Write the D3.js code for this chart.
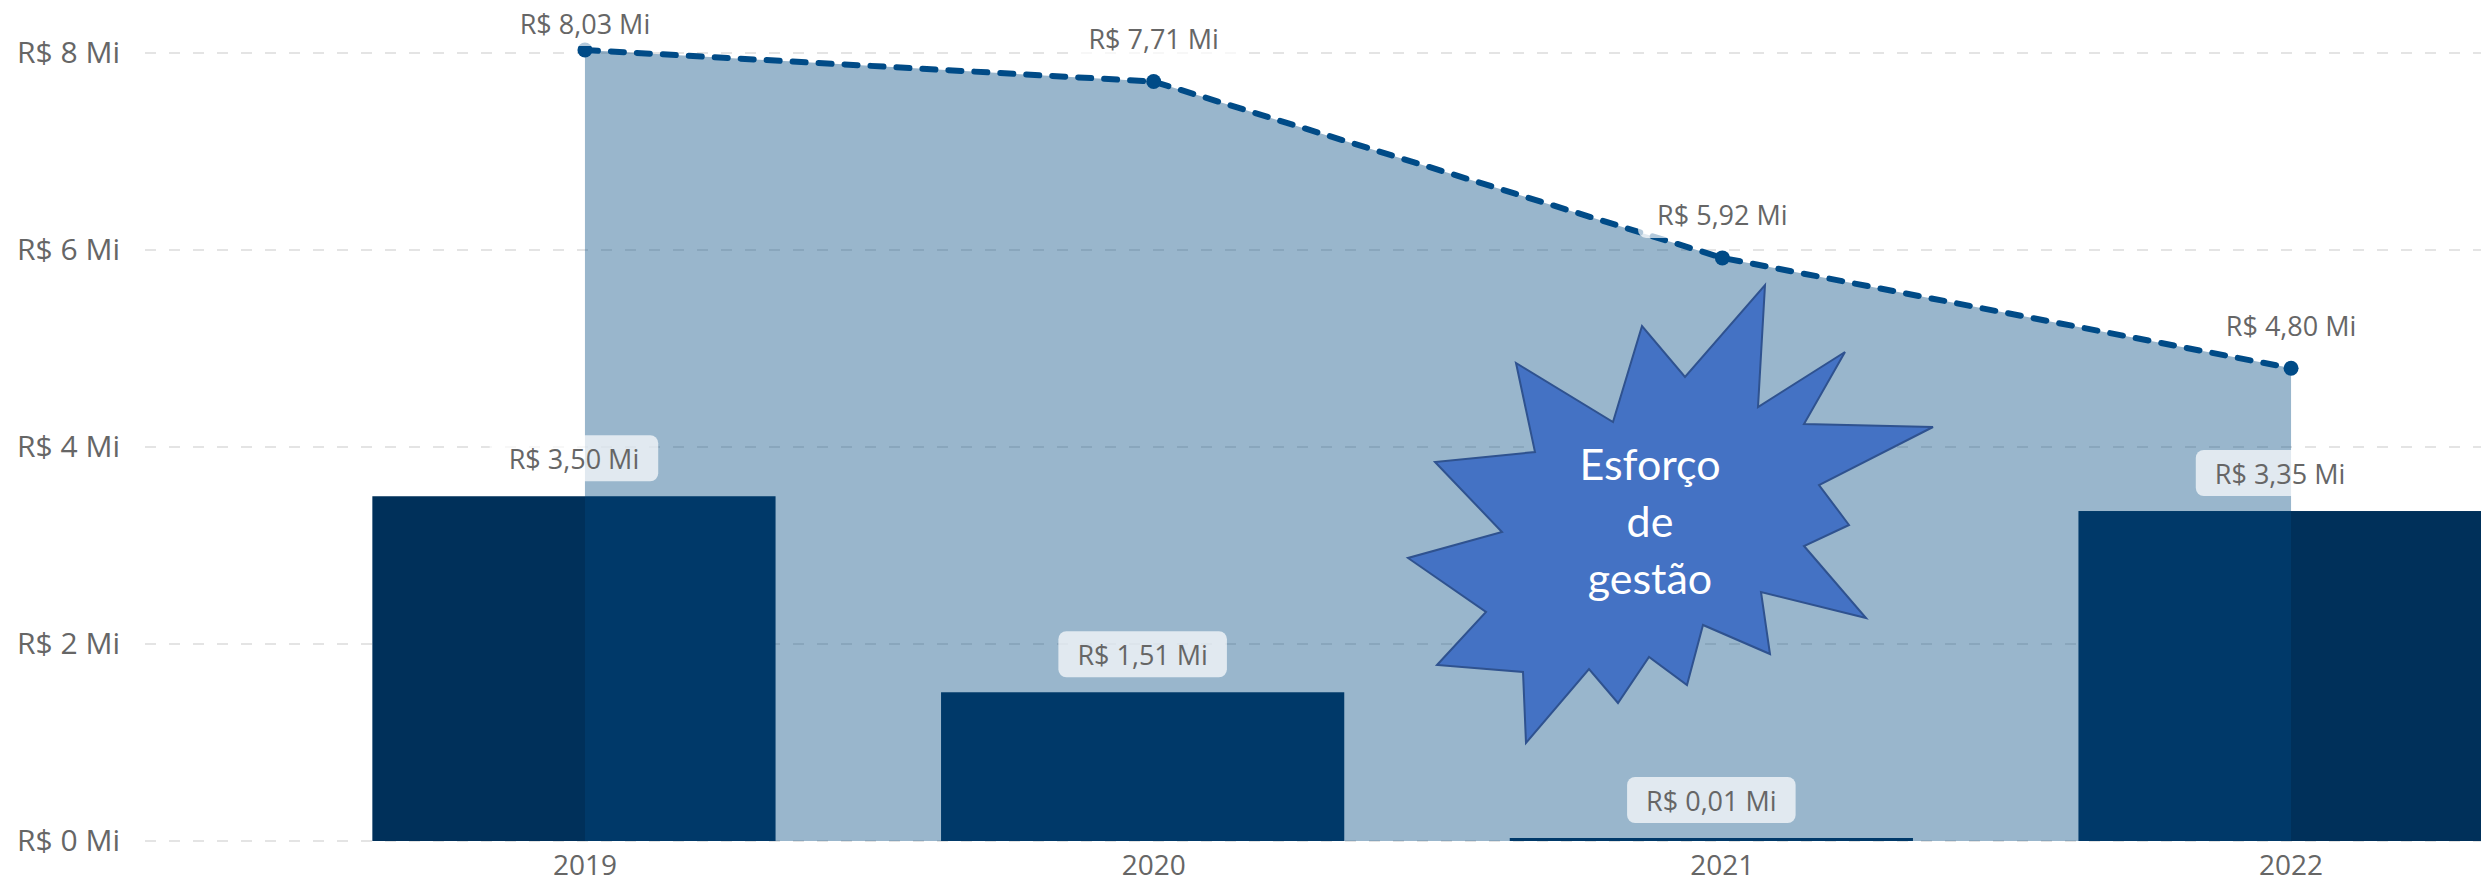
<!DOCTYPE html>
<html>
<head>
<meta charset="utf-8">
<script src="https://cdn.jsdelivr.net/npm/d3@7"></script>
<style>
  body { margin: 0; background: #fff; }
  svg { display: block; }
</style>
</head>
<body>
<svg id="chart"></svg>
<script>
var width = 2481,
    height = 885;

// valores em milhões de R$
var years = ["2019", "2020", "2021", "2022"];
var barValues = [3.50, 1.51, 0.01, 3.35];
var lineValues = [8.03, 7.71, 5.92, 4.80];
var yTicks = [0, 2, 4, 6, 8];

// anotação (forma de explosão)
var burstText = ["Esforço", "de", "gestão"];
var burstPoints = [
  [1765, 285], [1758, 407], [1845, 352], [1804, 424], [1933, 427],
  [1819, 485], [1849, 525], [1804, 546], [1866, 618], [1761, 592],
  [1770, 654], [1703, 625], [1687, 685], [1649, 657], [1618, 703],
  [1589, 669], [1526, 743], [1523, 672], [1437, 665], [1486, 612],
  [1408, 558], [1502, 532], [1435, 462], [1535, 452], [1516, 363],
  [1613, 422], [1642, 326], [1685, 377]
];

var fmtMi = function(v) { return "R$ " + d3.format(".2f")(v).replace(".", ",") + " Mi"; };

var svg = d3.select("#chart").attr("width", width).attr("height", height);

var y = d3.scaleLinear().domain([0, 8]).range([841, 53]);

// eixo das categorias (linha/área)
var x = d3.scaleBand().domain(years).range([300.6, 2575.4]);
// colunas (visual sobreposto, levemente deslocado)
var xBar = d3.scaleBand().domain(years).range([289.6, 2564.4])
  .paddingInner(0.291).paddingOuter(0.1455);

function cx(d) { return x(d) + x.bandwidth() / 2; }

// grade
svg.append("g").selectAll("line")
  .data(yTicks)
  .enter().append("line")
  .attr("x1", 145).attr("x2", width)
  .attr("y1", function(d) { return y(d); })
  .attr("y2", function(d) { return y(d); })
  .attr("stroke", "#e4e4e4")
  .attr("stroke-width", 2)
  .attr("stroke-dasharray", "11,13");

// eixo Y
var yAxis = svg.append("g")
  .attr("transform", "translate(120,0)")
  .call(d3.axisLeft(y).tickValues(yTicks).tickSize(0).tickPadding(0)
    .tickFormat(function(d) { return "R$ " + d + " Mi"; }));
yAxis.select(".domain").remove();
yAxis.selectAll("text")
  .attr("fill", "#666")
  .style("font-family", "'Open Sans', 'Noto Sans', sans-serif")
  .style("font-size", "30px");

// eixo X
var xAxis = svg.append("g")
  .attr("transform", "translate(0," + y(0) + ")")
  .call(d3.axisBottom(x).tickSize(0).tickPadding(14));
xAxis.select(".domain").remove();
xAxis.selectAll("text")
  .attr("fill", "#666")
  .style("font-family", "'Open Sans', 'Noto Sans', sans-serif")
  .style("font-size", "28px");

// colunas
var bars = years.map(function(d, i) { return { year: d, value: barValues[i] }; });
svg.append("g").selectAll("rect")
  .data(bars)
  .enter().append("rect")
  .attr("x", function(d) { return xBar(d.year); })
  .attr("width", xBar.bandwidth())
  .attr("y", function(d) { return Math.min(y(d.value), y(0) - 3); })
  .attr("height", function(d) { return Math.max(y(0) - y(d.value), 3); })
  .attr("fill", "#00305a");

// área + linha
var points = years.map(function(d, i) { return { year: d, value: lineValues[i] }; });

var area = d3.area()
  .x(function(d) { return cx(d.year); })
  .y0(y(0))
  .y1(function(d) { return y(d.value); });

svg.append("path")
  .datum(points)
  .attr("d", area)
  .attr("fill", "rgb(0,72,127)")
  .attr("fill-opacity", 0.4);

var line = d3.line()
  .x(function(d) { return cx(d.year); })
  .y(function(d) { return y(d.value); });

svg.append("path")
  .datum(points)
  .attr("d", line)
  .attr("fill", "none")
  .attr("stroke", "#004b87")
  .attr("stroke-width", 6)
  .attr("stroke-linecap", "round")
  .attr("stroke-dasharray", "13,13");

svg.append("g").selectAll("circle")
  .data(points)
  .enter().append("circle")
  .attr("cx", function(d) { return cx(d.year); })
  .attr("cy", function(d) { return y(d.value); })
  .attr("r", 7.5)
  .attr("fill", "#004b87");

// rótulos de dados
function addLabel(g, text, xc, yc) {
  var lbl = g.append("g");
  var box = lbl.append("rect");
  var t = lbl.append("text")
    .attr("x", xc).attr("y", yc)
    .attr("text-anchor", "middle")
    .attr("dominant-baseline", "central")
    .attr("fill", "#666")
    .style("font-family", "'Open Sans', 'Noto Sans', sans-serif")
    .style("font-size", "27px")
    .text(text);
  var w = t.node().getComputedTextLength() + 38;
  box.attr("x", xc - w / 2).attr("y", yc - 23)
    .attr("width", w).attr("height", 46)
    .attr("rx", 8)
    .attr("fill", "#fff")
    .attr("fill-opacity", 0.7);
}

var labels = svg.append("g");
bars.forEach(function(d) {
  var top = Math.min(y(d.value), y(0) - 3);
  addLabel(labels, fmtMi(d.value), xBar(d.year) + xBar.bandwidth() / 2, top - 38);
});
points.forEach(function(d) {
  addLabel(labels, fmtMi(d.value), cx(d.year), Math.max(y(d.value) - 43, 23));
});

// anotação
svg.append("polygon")
  .attr("points", burstPoints.map(function(p) { return p.join(","); }).join(" "))
  .attr("fill", "#4472c4")
  .attr("stroke", "#2f528f")
  .attr("stroke-width", 2)
  .attr("stroke-linejoin", "miter");

svg.append("text")
  .attr("text-anchor", "middle")
  .attr("fill", "#fff")
  .style("font-family", "Lato, 'Open Sans', sans-serif")
  .style("font-size", "43px")
  .selectAll("tspan")
  .data(burstText)
  .enter().append("tspan")
  .attr("x", 1650)
  .attr("y", function(d, i) { return 480 + i * 57; })
  .text(function(d) { return d; });
</script>
</body>
</html>
